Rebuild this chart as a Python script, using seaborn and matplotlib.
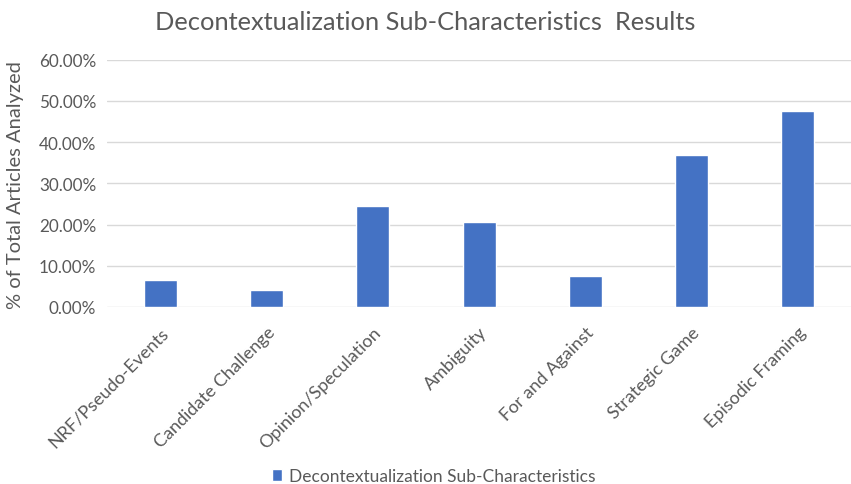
import pandas as pd
import matplotlib.pyplot as plt
import matplotlib.ticker as mticker
import seaborn as sns

# Data
categories = ["NRF/Pseudo-Events", "Candidate Challenge", "Opinion/Speculation",
              "Ambiguity", "For and Against", "Strategic Game", "Episodic Framing"]
values = [6.5, 4.2, 24.6, 20.7, 7.5, 36.9, 47.5]
series_name = "Decontextualization Sub-Characteristics"

df = pd.DataFrame({"category": categories, "value": values, "series": series_name})

sns.set_theme(style="white")
plt.rcParams["font.family"] = ["Lato", "DejaVu Sans"]
text_color = "#595959"

fig = plt.figure(figsize=(8.51, 4.85), dpi=100)
ax = fig.add_axes([0.126, 0.365, 0.874, 0.51])

sns.barplot(data=df, x="category", y="value", hue="series",
            palette=["#4472C4"], saturation=1, width=0.31, ax=ax, legend=True)

ax.set_ylim(0, 60)
ax.set_xlim(-0.5, len(categories) - 0.5)
ax.yaxis.set_major_locator(mticker.MultipleLocator(10))
ax.yaxis.set_major_formatter(mticker.FuncFormatter(lambda v, p: f"{v:.2f}%"))
ax.grid(axis="y", color="#d9d9d9", linewidth=1)
ax.set_axisbelow(True)
for s in ax.spines.values():
    s.set_visible(False)

ax.tick_params(axis="y", colors=text_color, labelsize=12.3, length=0, pad=8)
ax.tick_params(axis="x", colors=text_color, labelsize=13, length=0, pad=12)
plt.setp(ax.get_xticklabels(), rotation=45, ha="right", rotation_mode="anchor")

ax.set_xlabel("")
ax.set_ylabel("")
fig.text(16 / 851, 1 - 185 / 485, "% of Total Articles Analyzed", color=text_color,
         fontsize=14.5, rotation=90, ha="center", va="center")

fig.suptitle("Decontextualization Sub-Characteristics  Results", color=text_color,
             fontsize=18.3, y=1 - 22 / 485, va="center")

ax.get_legend().remove()
handles, labels = ax.get_legend_handles_labels()
fig.legend(handles, labels, loc="center", bbox_to_anchor=(434 / 851, 1 - 477 / 485),
           frameon=False, fontsize=12.5, labelcolor=text_color, handlelength=0.6,
           handleheight=0.7, handletextpad=0.4)

fig.savefig("out.png", dpi=100)
